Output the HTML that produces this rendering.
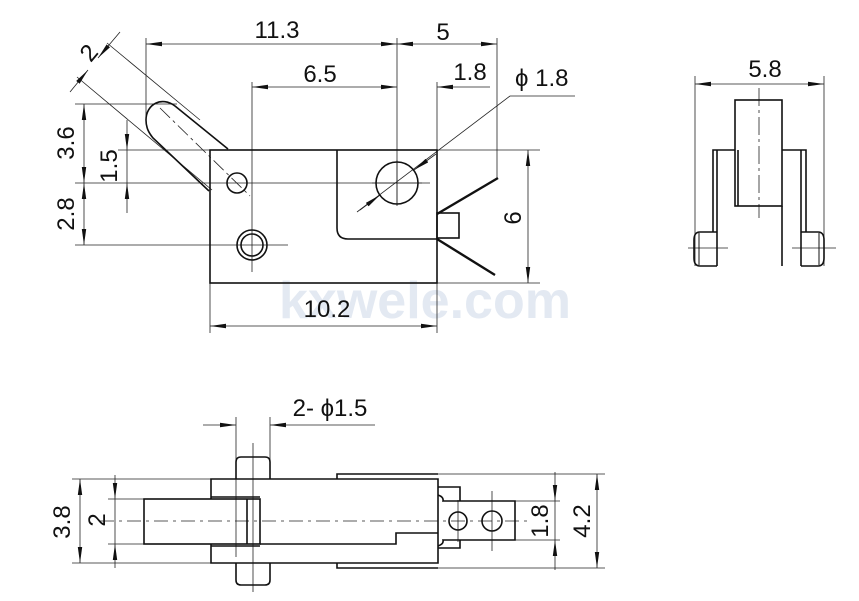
<!DOCTYPE html>
<html><head><meta charset="utf-8"><style>
html,body{margin:0;padding:0;background:#fff}
svg{display:block}
text{font-family:"Liberation Sans",sans-serif;fill:#111}
</style></head><body>
<svg width="859" height="601" viewBox="0 0 859 601" xmlns="http://www.w3.org/2000/svg">
<defs>
<marker id="a" viewBox="0 0 16 6" refX="16" refY="3" markerWidth="16" markerHeight="6" markerUnits="userSpaceOnUse" orient="auto-start-reverse">
<path d="M0,0.8 L16,3 L0,5.2 Z" fill="#111"/></marker>
</defs>
<!-- watermark -->
<text x="425" y="318" font-size="52" text-anchor="middle" style="fill:#e3e9f2" font-weight="bold">kxwele.com</text>

<g stroke="#222" stroke-width="0.8" fill="none">
<line x1="146" y1="38" x2="146" y2="122"/>
<line x1="397" y1="38" x2="397" y2="204"/>
<line x1="497" y1="38" x2="497" y2="178"/>
<line x1="252" y1="82" x2="252" y2="272"/>
<line x1="437" y1="82" x2="437" y2="150"/>
<line x1="146" y1="44" x2="397" y2="44" marker-start="url(#a)" marker-end="url(#a)"/>
<line x1="397" y1="44" x2="497" y2="44" marker-start="url(#a)" marker-end="url(#a)"/>
<line x1="252" y1="87" x2="397" y2="87" marker-start="url(#a)" marker-end="url(#a)"/>
<line x1="490" y1="87" x2="437" y2="87" marker-end="url(#a)"/>
<line x1="75" y1="104" x2="177" y2="104"/>
<line x1="75" y1="183" x2="430" y2="183"/>
<line x1="75" y1="245" x2="288" y2="245"/>
<line x1="118" y1="150" x2="210" y2="150"/>
<line x1="84" y1="104" x2="84" y2="183" marker-start="url(#a)" marker-end="url(#a)"/>
<line x1="84" y1="183" x2="84" y2="245" marker-start="url(#a)" marker-end="url(#a)"/>
<line x1="127" y1="120" x2="127" y2="150" marker-end="url(#a)"/>
<line x1="127" y1="213" x2="127" y2="183" marker-end="url(#a)"/>
<line x1="127" y1="150" x2="127" y2="183"/>
<line x1="437" y1="150" x2="540" y2="150"/>
<line x1="437" y1="283" x2="540" y2="283"/>
<line x1="528" y1="150" x2="528" y2="283" marker-start="url(#a)" marker-end="url(#a)"/>
<line x1="210" y1="283" x2="210" y2="333"/>
<line x1="437" y1="283" x2="437" y2="333"/>
<line x1="210" y1="326" x2="437" y2="326" marker-start="url(#a)" marker-end="url(#a)"/>
<line x1="107" y1="43" x2="200" y2="120"/>
<line x1="77" y1="77" x2="212" y2="190"/>
<line x1="120" y1="32" x2="98" y2="58" marker-end="url(#a)"/>
<line x1="70" y1="92" x2="88" y2="70" marker-end="url(#a)"/>
<line x1="160" y1="108" x2="250" y2="196" stroke-dasharray="14,4,3,4"/>
<line x1="357" y1="212" x2="510" y2="96"/>
<line x1="510" y1="96" x2="575" y2="96"/>
<line x1="360" y1="210" x2="380" y2="195" marker-end="url(#a)"/>
<line x1="436" y1="154" x2="414" y2="170" marker-end="url(#a)"/>
<line x1="397" y1="160" x2="397" y2="206" />
<line x1="372" y1="183" x2="422" y2="183"/>
<line x1="695" y1="76" x2="695" y2="266"/>
<line x1="824" y1="76" x2="824" y2="266"/>
<line x1="695" y1="84" x2="824" y2="84" marker-start="url(#a)" marker-end="url(#a)"/>
<line x1="759" y1="88" x2="759" y2="218" stroke-dasharray="18,4,3,4"/>
<line x1="688" y1="248" x2="728" y2="248"/>
<line x1="792" y1="248" x2="836" y2="248"/>
<line x1="203" y1="425" x2="236" y2="425" marker-end="url(#a)"/>
<line x1="375" y1="425" x2="270" y2="425" marker-end="url(#a)"/>
<line x1="236" y1="417" x2="236" y2="557"/>
<line x1="270" y1="417" x2="270" y2="479"/>
<line x1="253" y1="443" x2="253" y2="592"/>
<line x1="72" y1="479" x2="211" y2="479"/>
<line x1="72" y1="563" x2="211" y2="563"/>
<line x1="108" y1="499" x2="144" y2="499"/>
<line x1="108" y1="544" x2="144" y2="544"/>
<line x1="80" y1="479" x2="80" y2="563" marker-start="url(#a)" marker-end="url(#a)"/>
<line x1="115" y1="475" x2="115" y2="499" marker-end="url(#a)"/>
<line x1="115" y1="568" x2="115" y2="544" marker-end="url(#a)"/>
<line x1="115" y1="499" x2="115" y2="544"/>
<line x1="100" y1="521" x2="530" y2="521" stroke-dasharray="14,5,3,5"/>
<line x1="492" y1="491" x2="492" y2="551"/>
<line x1="458" y1="500" x2="458" y2="542"/>
<line x1="438" y1="474" x2="605" y2="474"/>
<line x1="438" y1="568" x2="605" y2="568"/>
<line x1="515" y1="501" x2="560" y2="501"/>
<line x1="515" y1="540" x2="560" y2="540"/>
<line x1="555" y1="472" x2="555" y2="501" marker-end="url(#a)"/>
<line x1="555" y1="570" x2="555" y2="540" marker-end="url(#a)"/>
<line x1="555" y1="501" x2="555" y2="540"/>
<line x1="597" y1="474" x2="597" y2="568" marker-start="url(#a)" marker-end="url(#a)"/>
</g>

<g stroke="#111" stroke-width="1.6" fill="none">
<rect x="210" y="150" width="227" height="133"/>
<path d="M337,150 L337,228 Q337,239 348,239 L437,239"/>
<rect x="437" y="213" width="22" height="25"/>
<path d="M228,149 L175,106 C162,96 146,104 146,120 C146,128 149,133 153,138 L209,191"/>
<circle cx="237" cy="183" r="10"/>
<circle cx="397" cy="183" r="21"/>
<circle cx="252" cy="245" r="15"/>
<circle cx="252" cy="245" r="11"/>
<line x1="437" y1="214" x2="498" y2="178" stroke-width="2.4"/>
<line x1="437" y1="239" x2="495" y2="275" stroke-width="2.4"/>
<rect x="735" y="100" width="47" height="106"/>
<line x1="738" y1="150" x2="738" y2="206"/>
<path d="M713,232 L713,150 L735,150"/>
<line x1="717" y1="150" x2="717" y2="266"/>
<path d="M806,232 L806,150 L782,150"/>
<line x1="782" y1="206" x2="782" y2="266"/>
<line x1="801" y1="150" x2="801" y2="266"/>
<path d="M717,232 L700,232 Q694,232 694,240 L694,258 Q694,266 700,266 L717,266"/>
<line x1="699" y1="233" x2="699" y2="265" stroke-width="1"/>
<path d="M801,232 L818,232 Q824,232 824,240 L824,258 Q824,266 818,266 L801,266"/>
<line x1="819" y1="233" x2="819" y2="265" stroke-width="1"/>
<path d="M211,499 L211,479 L438,479 L438,563 L211,563 L211,544"/>
<rect x="144" y="499" width="116" height="45"/>
<line x1="247" y1="499" x2="247" y2="544"/>
<line x1="211" y1="497" x2="260" y2="497"/>
<line x1="211" y1="546" x2="260" y2="546"/>
<path d="M260,544 L396,544 L396,533 L438,533"/>
<path d="M236,479 L236,462 Q236,457 241,457 L265,457 Q270,457 270,462 L270,479"/>
<path d="M236,563 L236,580 Q236,585 241,585 L265,585 Q270,585 270,580 L270,563"/>
<path d="M337,479 L337,474 L438,474"/>
<path d="M337,563 L337,568 L438,568"/>
<path d="M438,487 L460,487 L460,501 M460,540 L460,548 L438,548"/>
<path d="M438,495 Q444,497 443,501 L515,501 L515,540 L443,540 Q444,544 438,546"/>
<circle cx="458" cy="521" r="9"/>
<path d="M462,513 A9,9 0 0 1 462,529" stroke-width="1"/>
<circle cx="492" cy="521" r="10"/>
</g>

<g font-size="24">
<text x="277" y="38" text-anchor="middle">11.3</text>
<text x="443" y="40" text-anchor="middle">5</text>
<text x="320" y="82" text-anchor="middle">6.5</text>
<text x="470" y="80" text-anchor="middle">1.8</text>
<text x="515" y="86">ϕ 1.8</text>
<text x="327" y="317" text-anchor="middle">10.2</text>
<text x="765" y="77" text-anchor="middle">5.8</text>
<text x="330" y="416" text-anchor="middle">2- ϕ1.5</text>
<text transform="translate(95,58) rotate(-50)" text-anchor="middle">2</text>
<text transform="translate(74,143) rotate(-90)" text-anchor="middle">3.6</text>
<text transform="translate(74,214) rotate(-90)" text-anchor="middle">2.8</text>
<text transform="translate(117,166) rotate(-90)" text-anchor="middle">1.5</text>
<text transform="translate(521,218) rotate(-90)" text-anchor="middle">6</text>
<text transform="translate(70,522) rotate(-90)" text-anchor="middle">3.8</text>
<text transform="translate(105,520) rotate(-90)" text-anchor="middle">2</text>
<text transform="translate(548,521) rotate(-90)" text-anchor="middle">1.8</text>
<text transform="translate(590,521) rotate(-90)" text-anchor="middle">4.2</text>
</g>
</svg>
</body></html>
